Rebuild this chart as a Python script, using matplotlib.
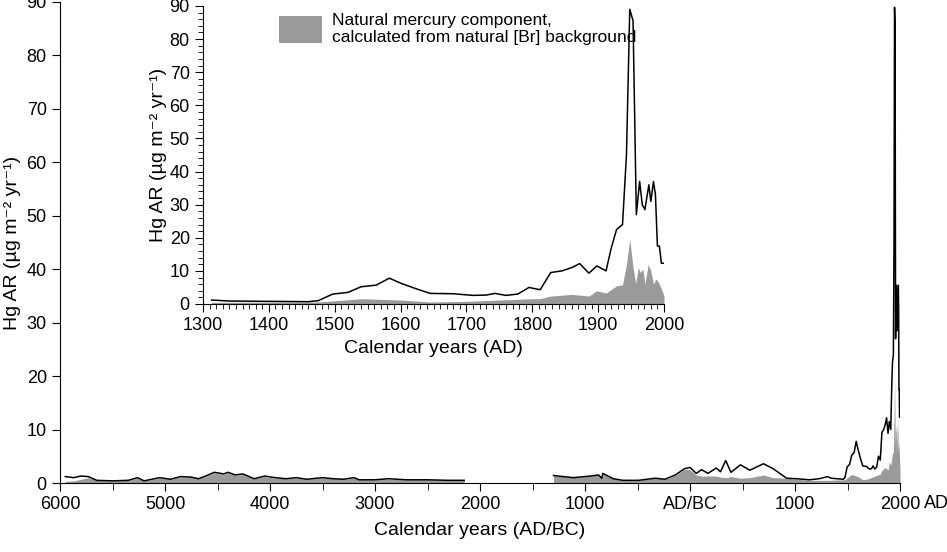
import matplotlib
matplotlib.use('Agg')
import matplotlib.pyplot as plt
from matplotlib.ticker import MultipleLocator
from matplotlib.patches import Patch

plt.rcParams['font.family'] = ['Liberation Sans', 'DejaVu Sans']

# recent record (inset), AD years
yr_recent = [1313, 1340, 1400, 1460, 1475, 1497, 1520, 1540, 1563, 1583, 1600, 1625, 1645, 1680,
             1710, 1730, 1743, 1760, 1778, 1795, 1812, 1828, 1845, 1860, 1872, 1886, 1898, 1912,
             1920, 1928, 1937, 1943, 1948, 1953, 1958, 1963, 1967, 1971, 1977, 1980, 1984, 1987,
             1990, 1993, 1996, 2000]
hg_recent = [1.2, 0.9, 0.8, 0.7, 1.0, 3.0, 3.5, 5.2, 5.7, 7.8, 6.3, 4.5, 3.2, 3.1,
             2.6, 2.7, 3.2, 2.6, 3.0, 5.0, 4.3, 9.5, 10.0, 11.0, 12.2, 9.3, 11.5, 10.0,
             17.0, 22.5, 24.0, 45.0, 89.0, 85.5, 27.0, 37.0, 30.0, 28.5, 36.0, 31.0, 37.0, 33.0,
             17.5, 17.5, 12.3, 12.3]
yr_nat_recent = [1313, 1475, 1540, 1600, 1645, 1700, 1750, 1800, 1812, 1828, 1860, 1886, 1898,
                 1912, 1928, 1937, 1943, 1948, 1953, 1957, 1961, 1964, 1968, 1971, 1976, 1980,
                 1984, 1988, 1993, 1996, 2000]
nat_recent = [0.5, 0.6, 1.6, 1.2, 0.6, 0.8, 1.2, 1.6, 1.6, 2.4, 2.9, 2.4, 4.0,
              3.3, 5.5, 5.8, 12.0, 19.5, 11.0, 6.2, 11.0, 9.5, 10.5, 6.0, 12.0, 10.0,
              6.0, 7.6, 6.0, 4.5, 2.5]

# older record, negative = BC
yr_bc = [-5950, -5870, -5800, -5730, -5650, -5500, -5350, -5260, -5200, -5050, -4950, -4850,
         -4750, -4680, -4600, -4530, -4440, -4400, -4330, -4260, -4150, -4050, -3950, -3850,
         -3750, -3650, -3500, -3400, -3300, -3200, -3150, -3000, -2870, -2700, -2500, -2300, -2150]
hg_bc = [1.2, 1.0, 1.3, 1.2, 0.5, 0.4, 0.5, 1.0, 0.4, 1.0, 0.7, 1.2,
         1.1, 0.8, 1.4, 2.0, 1.7, 2.0, 1.5, 1.7, 0.8, 1.3, 1.0, 0.8,
         1.0, 0.7, 1.0, 0.8, 0.7, 1.0, 0.6, 0.6, 0.8, 0.6, 0.6, 0.5, 0.5]
nat_bc = [0.3, 0.4, 0.7, 1.0, 0.5, 0.4, 0.5, 0.9, 0.4, 0.9, 0.7, 1.1,
          1.1, 0.8, 1.3, 1.9, 1.6, 1.9, 1.4, 1.6, 0.8, 1.2, 0.9, 0.8,
          0.9, 0.7, 0.9, 0.8, 0.7, 0.9, 0.6, 0.6, 0.7, 0.6, 0.6, 0.5, 0.5]

yr_mid = [-1300, -1110, -950, -870, -840, -830, -730, -640, -490, -330, -240, -140, -50, 0,
          60, 110, 170, 250, 290, 340, 390, 480, 570, 700, 790, 920, 1010, 1140, 1230]
hg_mid = [1.4, 1.0, 1.3, 1.5, 0.9, 1.8, 0.8, 0.5, 0.5, 0.9, 0.7, 1.5, 2.7, 2.9,
          1.8, 2.5, 1.8, 2.8, 2.1, 4.2, 2.0, 3.4, 2.4, 3.6, 2.7, 0.9, 0.8, 0.6, 0.8]
nat_mid = [1.4, 1.0, 1.3, 1.5, 0.9, 1.7, 0.8, 0.5, 0.5, 0.9, 0.7, 1.4, 2.6, 2.5,
           1.5, 1.3, 1.3, 1.3, 1.1, 1.0, 1.2, 0.9, 1.0, 1.5, 1.0, 0.9, 0.7, 0.5, 0.5]

gray = '#9a9a9a'
ylab = 'Hg AR (µg m⁻² yr⁻¹)'
fig = plt.figure(figsize=(9.47, 5.52), dpi=100)
ax = fig.add_axes([60/947, 69/552, 840/947, 481/552])

for xs, ys, xn, yn in [(yr_bc, hg_bc, yr_bc, nat_bc),
                       (yr_mid + yr_recent, hg_mid + hg_recent, yr_mid + yr_nat_recent, nat_mid + nat_recent)]:
    ax.fill_between(xn, 0, yn, color=gray, lw=0)
    ax.plot(xs, ys, color='black', lw=1.1)

ax.set_xlim(-6000, 2000)
ax.set_ylim(0, 90)
ax.set_xticks(range(-6000, 2001, 1000))
ax.xaxis.set_minor_locator(MultipleLocator(500))
ax.set_xticklabels(['6000', '5000', '4000', '3000', '2000', '1000', 'AD/BC', '1000', '2000'])
ax.annotate('AD', xy=(2000, 0), xycoords=('data', 'axes fraction'), xytext=(17, -8.5),
            textcoords='offset points', ha='left', va='top', fontsize=13)
ax.set_yticks(range(0, 91, 10))
for s in ['top', 'right']:
    ax.spines[s].set_visible(False)
ax.tick_params(which='major', length=6, labelsize=13)
ax.tick_params(which='minor', length=5)
ax.set_xlabel('Calendar years (AD/BC)', fontsize=14, labelpad=6)
ax.set_ylabel(ylab, fontsize=14, labelpad=4)

# inset
ins = fig.add_axes([203/947, 248/552, 461/947, 298/552])
ins.fill_between(yr_nat_recent, 0, nat_recent, color=gray, lw=0)
ins.plot(yr_recent, hg_recent, color='black', lw=1.1)
ins.set_xlim(1300, 2000)
ins.set_ylim(0, 90)
ins.xaxis.set_major_locator(MultipleLocator(100))
ins.xaxis.set_minor_locator(MultipleLocator(10))
ins.yaxis.set_major_locator(MultipleLocator(10))
ins.yaxis.set_minor_locator(MultipleLocator(2))
for s in ['top', 'right']:
    ins.spines[s].set_visible(False)
ins.tick_params(which='major', length=6, labelsize=13)
ins.tick_params(which='minor', length=3.5)
ins.set_xlabel('Calendar years (AD)', fontsize=14, labelpad=4)
ins.set_ylabel(ylab, fontsize=14, labelpad=2)
ins.legend(handles=[Patch(color=gray, lw=0)],
           labels=['Natural mercury component,\ncalculated from natural [Br] background'],
           loc='upper left', bbox_to_anchor=(0.13, 1.03), frameon=False, fontsize=12.5,
           handlelength=2.5, handleheight=2.0, handletextpad=0.6)

fig.savefig('out.png', dpi=100)
